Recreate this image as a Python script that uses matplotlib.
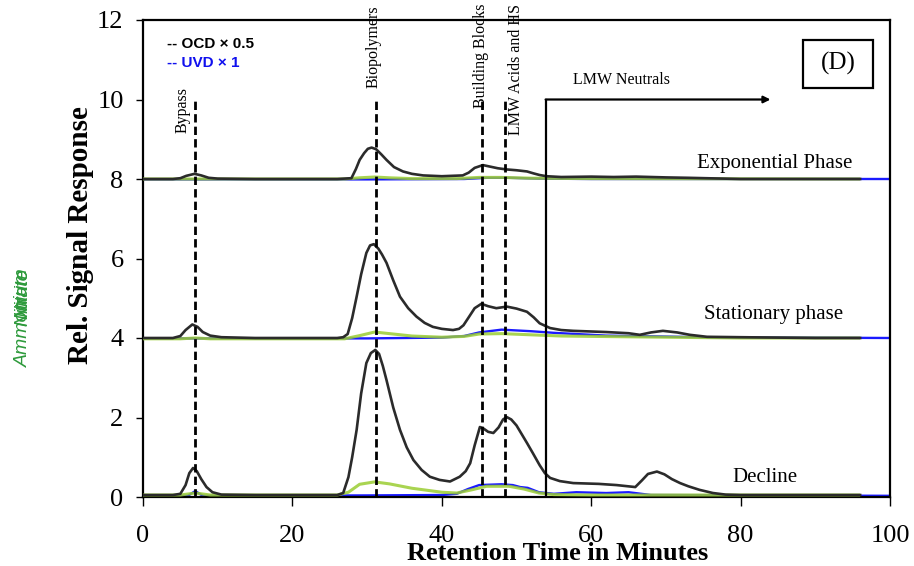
import matplotlib
matplotlib.use("Agg")
import matplotlib.pyplot as plt
from matplotlib.patches import Rectangle

# ---------------- data ----------------
exp_ocd_x = [0, 4, 5, 5.8, 6.9, 7.8, 8.8, 10, 15, 20, 26, 27.9, 28.5, 29.0, 29.6, 30.1, 30.6, 31.2, 31.9, 32.6,
             33.6, 34.8, 36, 37.5, 40, 42.8, 43.6, 44.4, 45.5, 46.5, 47.5, 48.7, 50, 51.4, 52.3, 53.1, 54, 56,
             60, 63, 66, 70, 73, 80, 90, 96]
exp_ocd_y = [8.0, 8.0, 8.02, 8.08, 8.13, 8.09, 8.03, 8.01, 8.0, 8.0, 8.0, 8.02, 8.25, 8.48, 8.65, 8.76, 8.79, 8.75,
             8.62, 8.48, 8.3, 8.19, 8.13, 8.09, 8.07, 8.09, 8.16, 8.28, 8.35, 8.31, 8.27, 8.24, 8.22, 8.19, 8.14,
             8.1, 8.07, 8.05, 8.06, 8.05, 8.06, 8.04, 8.03, 8.0, 8.0, 8.0]
exp_grn_x = [0, 27, 29, 31, 33, 36, 42, 45, 48, 52, 60, 96]
exp_grn_y = [8.0, 8.0, 8.03, 8.05, 8.03, 8.01, 8.01, 8.04, 8.04, 8.02, 8.01, 8.0]
exp_uvd_x = [0, 30, 43, 46, 49, 53, 60, 100]
exp_uvd_y = [7.99, 7.99, 8.0, 8.03, 8.03, 8.01, 8.0, 8.0]

sta_ocd_x = [0, 4, 5, 5.7, 6.6, 7.3, 8, 9, 10.5, 15, 20, 26, 26.8, 27.4, 28.0, 28.6, 29.2, 29.9, 30.4, 30.9, 31.5,
             32.0, 32.6, 33.5, 34.4, 35.5, 36.6, 37.7, 38.8, 40, 41.5, 42.3, 42.9, 43.6, 44.4, 45.3, 46.2, 47.3,
             48.7, 50, 51.4, 52.3, 53.1, 54.5, 56, 57.6, 62, 65, 66.5, 68, 69.6, 71.5, 73.2, 75.5, 80, 90, 96]
sta_ocd_y = [4.0, 4.0, 4.05, 4.2, 4.34, 4.28, 4.15, 4.06, 4.02, 4.0, 4.0, 4.0, 4.02, 4.1, 4.5, 5.04, 5.6, 6.14, 6.33,
             6.36, 6.25, 6.1, 5.89, 5.45, 5.04, 4.75, 4.54, 4.38, 4.28, 4.23, 4.2, 4.23, 4.32, 4.52, 4.75, 4.86,
             4.8, 4.75, 4.79, 4.74, 4.66, 4.52, 4.37, 4.25, 4.2, 4.18, 4.15, 4.12, 4.08, 4.14, 4.18, 4.14, 4.08,
             4.03, 4.02, 4.0, 4.0]
sta_grn_x = [0, 5, 7, 9, 27, 29, 31, 33, 36, 40, 43, 45, 48, 52, 56, 65, 80, 96]
sta_grn_y = [3.98, 3.98, 4.0, 3.98, 3.98, 4.06, 4.15, 4.11, 4.05, 4.02, 4.04, 4.1, 4.11, 4.08, 4.05, 4.03, 4.0, 4.0]
sta_uvd_x = [0, 30, 40, 43, 45, 48, 50, 52, 55, 58, 62, 75, 100]
sta_uvd_y = [3.99, 3.99, 4.01, 4.05, 4.14, 4.21, 4.19, 4.17, 4.13, 4.1, 4.06, 4.02, 4.0]

dec_ocd_x = [0, 4, 5, 5.7, 6.2, 6.7, 7.2, 7.8, 8.5, 9.3, 10.5, 15, 20, 26, 26.8, 27.5, 28.0, 28.6, 29.2, 29.9,
             30.5, 31.1, 31.6, 32.1, 32.6, 33.5, 34.4, 35.3, 36.2, 37.3, 38.4, 39.7, 41.1, 42.4, 43.2, 43.8,
             44.4, 45.1, 45.6, 46.2, 46.9, 47.6, 48.2, 48.7, 49.3, 50, 50.7, 51.4, 52.2, 53.1, 53.8, 54.5, 55.8,
             57.6, 61, 63.4, 65.9, 66.8, 67.6, 68.8, 69.8, 70.8, 71.9, 73, 74.5, 76.3, 78, 80, 90, 96]
dec_ocd_y = [0.05, 0.05, 0.08, 0.3, 0.6, 0.73, 0.65, 0.45, 0.25, 0.12, 0.06, 0.05, 0.05, 0.05, 0.1, 0.5, 1.0, 1.69,
             2.6, 3.37, 3.62, 3.7, 3.6, 3.3, 2.94, 2.25, 1.69, 1.25, 0.93, 0.68, 0.51, 0.43, 0.39, 0.51, 0.65,
             0.85, 1.3, 1.76, 1.72, 1.64, 1.61, 1.75, 1.95, 2.01, 1.95, 1.8, 1.58, 1.36, 1.1, 0.8, 0.6, 0.48,
             0.4, 0.35, 0.33, 0.30, 0.25, 0.42, 0.58, 0.64, 0.57, 0.45, 0.35, 0.27, 0.18, 0.1, 0.06, 0.05, 0.05,
             0.05]
dec_grn_x = [0, 5, 7, 9, 26, 27.5, 29, 31, 33, 36, 40, 42, 44, 46, 49, 51, 53, 55, 60, 70, 96]
dec_grn_y = [0.05, 0.05, 0.1, 0.05, 0.05, 0.12, 0.32, 0.38, 0.33, 0.22, 0.12, 0.1, 0.18, 0.27, 0.27, 0.2, 0.1,
             0.06, 0.05, 0.05, 0.05]
dec_uvd_x = [0, 6, 7, 8, 30, 40, 42, 43.5, 45, 48, 49.5, 50.5, 51.5, 53, 55, 58, 62, 65, 68, 100]
dec_uvd_y = [0.03, 0.03, 0.15, 0.03, 0.04, 0.05, 0.08, 0.2, 0.3, 0.32, 0.3, 0.25, 0.23, 0.12, 0.08, 0.12, 0.1,
             0.12, 0.05, 0.03]

fraction_x = [6.9, 31.15, 45.4, 48.5]
fraction_labels = ["Bypass", "Biopolymers", "Building Blocks", "LMW Acids and HS"]
fraction_label_x = [5.35, 30.9, 45.3, 50.0]
fraction_label_y = [9.16, 10.29, 9.79, 9.1]

phase_labels = ["Exponential Phase", "Stationary phase", "Decline"]
phase_label_x = [84.5, 84.4, 83.3]
phase_label_y = [8.4, 4.58, 0.48]

x_ticks = [0, 20, 40, 60, 80, 100]
y_ticks = [0, 2, 4, 6, 8, 10, 12]

# ---------------- figure ----------------
SERIF = "Liberation Serif"
SANS = "Liberation Sans"
BLACK = "#2b2b2b"
GREEN = "#9acd32"
BLUE = "#1a1aff"

fig = plt.figure(figsize=(9.14, 5.66), dpi=100)
ax = fig.add_axes([143 / 914, 1 - 497 / 566, (890 - 143) / 914, (497 - 20) / 566])

for bx, by in [(exp_uvd_x, exp_uvd_y), (sta_uvd_x, sta_uvd_y), (dec_uvd_x, dec_uvd_y)]:
    ax.plot(bx, by, color=BLUE, lw=1.7, zorder=2)
for gx, gy in [(exp_grn_x, exp_grn_y), (sta_grn_x, sta_grn_y), (dec_grn_x, dec_grn_y)]:
    ax.plot(gx, gy, color=GREEN, lw=2.2, alpha=0.85, solid_capstyle="butt", zorder=3)
for kx, ky in [(exp_ocd_x, exp_ocd_y), (sta_ocd_x, sta_ocd_y), (dec_ocd_x, dec_ocd_y)]:
    ax.plot(kx, ky, color=BLACK, lw=1.9, solid_joinstyle="round", zorder=4)

# fraction markers
for fx in fraction_x:
    ax.plot([fx, fx], [0, 10], color="black", lw=2.0, linestyle=(0, (3, 1.5)), zorder=5)
for lbl, lx, ly in zip(fraction_labels, fraction_label_x, fraction_label_y):
    ax.text(lx, ly, lbl, rotation=90, ha="center", va="bottom", fontsize=11.5,
            family=SERIF, clip_on=False, zorder=6)

# LMW neutrals bracket/arrow
ax.plot([54, 54], [0, 10], color="black", lw=1.6, zorder=5)
ax.annotate("", xy=(84, 10), xytext=(53.9, 10),
            arrowprops=dict(arrowstyle="-|>", lw=1.6, color="black", mutation_scale=10,
                            shrinkA=0, shrinkB=0), zorder=5)
ax.text(64.1, 10.49, "LMW Neutrals", ha="center", va="center", fontsize=11.5, family=SERIF)

# phase labels
for lbl, lx, ly in zip(phase_labels, phase_label_x, phase_label_y):
    ax.text(lx, ly, lbl, ha="center", va="center", fontsize=15, family=SERIF)

# (D) box
ax.add_patch(Rectangle((88.4, 10.29), 9.3, 1.21, fill=False, edgecolor="black", lw=1.6, zorder=6))
ax.text(93.05, 10.9, "(D)", ha="center", va="center", fontsize=18, family=SERIF, zorder=7)

# detector legend text
ax.text(3.2, 11.4, "-- OCD \u00d7 0.5", ha="left", va="center", fontsize=11,
        fontweight="bold", family=SANS, color="black")
ax.text(3.2, 10.93, "-- UVD \u00d7 1", ha="left", va="center", fontsize=11,
        fontweight="bold", family=SANS, color="#1010ee")

ax.set_xlim(0, 100)
ax.set_ylim(0, 12)
ax.set_xticks(x_ticks)
ax.set_yticks(y_ticks)
ax.set_xticklabels([str(t) for t in x_ticks], family=SERIF, fontsize=19)
ax.set_yticklabels([str(t) for t in y_ticks], family=SERIF, fontsize=19)
ax.tick_params(axis="x", direction="out", length=6.5, width=1, pad=14)
ax.tick_params(axis="y", direction="out", length=5, width=1, pad=9)
for s in ax.spines.values():
    s.set_linewidth(1.6)
    s.set_color("black")

fig.text(558 / 914, 1 - 560 / 566, "Retention Time in Minutes", ha="center", va="baseline",
         fontsize=19, fontweight="bold", family=SERIF)
fig.text(80 / 914, 1 - 235 / 566, "Rel. Signal Response", ha="center", va="center", rotation=90,
         fontsize=21, fontweight="bold", family=SERIF)

# overlapping green secondary-axis labels (overlap as in the original)
for lbl in ["Ammonium", "Nitrate", "Nitrite"]:
    fig.text(23 / 914, 1 - 268 / 566, lbl, ha="center", va="top", rotation=90, fontsize=14,
             style="italic", family=SANS, color="#2e9a3c")

fig.savefig("out.png", dpi=100)
